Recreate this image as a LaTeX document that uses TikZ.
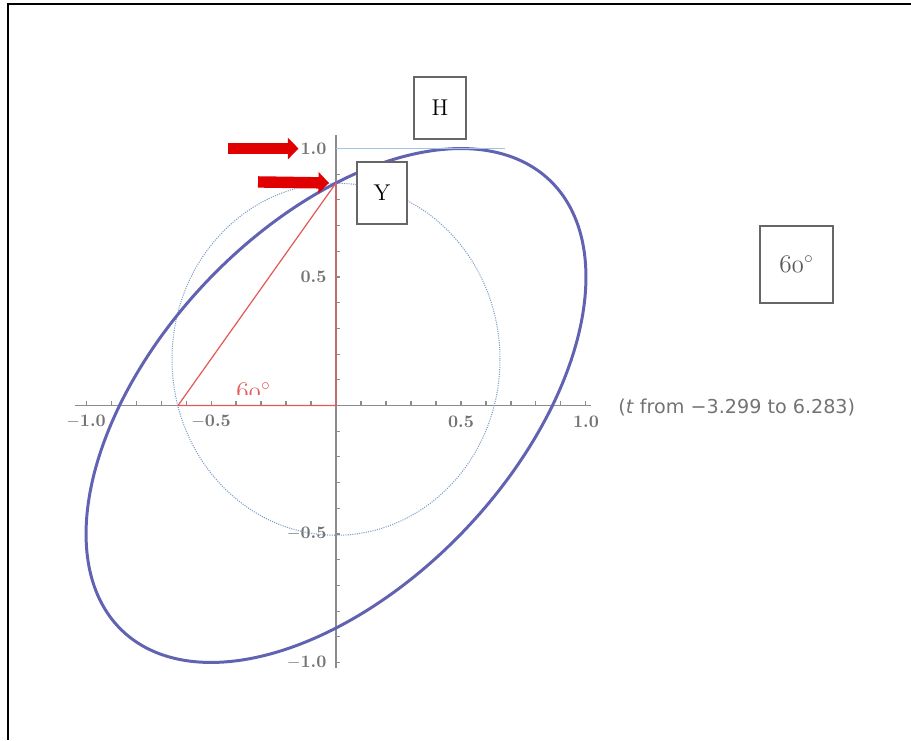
\documentclass[tikz,border=0pt]{standalone}
\usepackage{fontspec}
\newfontfamily\plotsans{DejaVu Sans}
\usetikzlibrary{arrows.meta,positioning}
\definecolor{lissa}{HTML}{6262B2}
\definecolor{auxblue}{HTML}{7C9CC6}
\definecolor{trired}{HTML}{E25A5A}
\definecolor{pointred}{HTML}{E00000}
\definecolor{axgray}{HTML}{8C8C8C}
\definecolor{hlblue}{HTML}{A2C4E4}
\newcommand{\osnum}[1]{{\usefont{OML}{cmm}{m}{it}#1}}
\tikzset{
  % plot
  ax/.style={draw=axgray,line width=1pt},
  tk/.style={draw=axgray,line width=0.6pt},
  tl/.style={font=\fontsize{10}{12}\selectfont\bfseries,text=black!55,inner sep=1pt},
  liss/.style={draw=lissa,line width=1.7pt},
  aux/.style={draw=auxblue,line width=0.6pt,dash pattern=on 0.6pt off 0.7pt},
  tri/.style={draw=trired,line width=0.7pt},
  hl/.style={draw=hlblue,line width=0.8pt},
  fat/.style={draw=pointred,line width=6.5pt,-{Triangle[length=6pt,width=12pt]}},
  % boxes
  lbox/.style={draw=black!60,fill=white,line width=1pt,inner sep=0pt,
               font=\fontsize{13}{15}\selectfont},
}
\begin{document}
\begin{tikzpicture}[x=0.02cm,y=0.02cm]
\useasboundingbox (0,0) rectangle (911,740);
  \draw[line width=1.2pt] (8,0) -- (8,736) -- (911,736);
  \begin{scope}[shift={(336,334.5)},x=5cm,y=5.14cm]
    \coordinate (O) at (0,0);
    \coordinate (Ypt) at (0,0.866);
    \coordinate (Apt) at (-0.632,0);
    \coordinate (Htop) at (0.676,1);
    % axes
    \draw[ax] (-1.045,0) -- (1.02,0);
    \draw[ax] (0,-1.02) -- (0,1.052);
    \foreach \i in {-10,...,10} {
      \draw[tk] (\i/10,0) -- (\i/10,0.017);
      \draw[tk] (0,\i/10) -- (0.017,\i/10);
    }
    \foreach \v/\s in {-1/$-$1.0,-0.5/$-$0.5,0.5/0.5,1/1.0}
      \node[tl] at (\v,-0.064) {\s};
    \foreach \v/\s in {-1/$-$1.0,-0.5/$-$0.5,0.5/0.5}
      \node[tl,anchor=east] at (-0.03,\v) {\s};
    \node[tl,anchor=east] (l10) at (-0.03,1) {1.0};
    \node[anchor=west,inner sep=0pt,text=black!55,
          font=\plotsans\fontsize{10.9}{12}\selectfont] (trange) at (1.128,-0.006)
      {(\textit{t} from −3.299 to 6.283)};
    % curves
    \draw[aux] (0,0.18) ellipse [x radius=0.656,y radius=0.685];
    \draw[liss] plot[smooth cycle,domain=0:357.5,samples=144]
      ({sin(\x)},{sin(\x+60)});
    \draw[tri] (Apt) -- (Ypt) -- (O) -- cycle;
    \draw[hl] (0,1) -- (Htop);
    % pointers
    \coordinate (p1) at (-0.432,1);
    \coordinate (p2) at (-0.312,0.87);
    \draw[fat] (p1) -- (l10.west);
    \draw[fat] (p2) -- ([xshift=-4pt]Ypt);
  \end{scope}
  \begin{scope}
    \clip (225,345) rectangle (285,366);
    \node[anchor=base,text=trired,inner sep=0pt,font=\fontsize{14.4}{16}\selectfont]
      (angred) at (253.5,340) {\osnum{60}$^\circ$};
  \end{scope}
  \node[lbox,minimum width=1.04cm,minimum height=1.24cm] (H) at (440,632) {H};
  \node[lbox,minimum width=1cm,minimum height=1.24cm] (Y) at (382,547) {Y};
  \node[lbox,minimum width=1.46cm,minimum height=1.54cm,text=black!65,
        font=\fontsize{14.4}{16}\selectfont] (ang) at (796.5,475.5) {\osnum{60}$^\circ$};
\end{tikzpicture}
\end{document}
